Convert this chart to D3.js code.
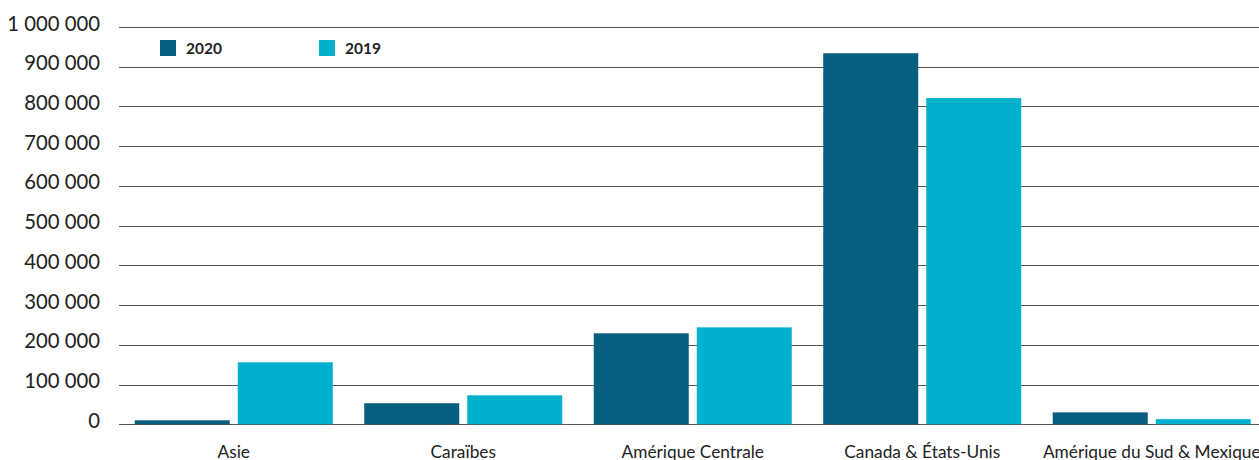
<!DOCTYPE html>
<html><head><meta charset="utf-8">
<script src="https://cdn.jsdelivr.net/npm/d3@7"></script>
<style>body{margin:0;background:#fff}svg{display:block}</style>
</head><body>
<script>
const categories = ["Asie","Caraïbes","Amérique Centrale","Canada & États-Unis","Amérique du Sud & Mexique"];
const seriesNames = ["2020","2019"];
const values2020 = [10000, 53000, 229000, 934000, 30000];
const values2019 = [156000, 73000, 244000, 821000, 13000];
const yTicks = [0,100000,200000,300000,400000,500000,600000,700000,800000,900000,1000000];
const colors = ["#075e7e","#00b1cd"];

const W=1259,H=460;
const FONT="Lato, 'Open Sans', sans-serif";
const svg=d3.select("body").append("svg").attr("width",W).attr("height",H);
const x0=d3.scaleBand().domain(categories).range([119,1266.5]).paddingInner(0).paddingOuter(0);
const x1=d3.scaleBand().domain(seriesNames).range([15.75, x0.bandwidth()-15.75]).paddingInner(0.078);
const y=d3.scaleLinear().domain([0,1000000]).range([424.3,27]);
const fmt=d=>d3.format(",")(d).replace(/,/g," ");

// gridlines
svg.append("g").selectAll("line").data(yTicks).join("line")
  .attr("x1",119).attr("x2",W).attr("y1",d=>Math.round(y(d))+0.5).attr("y2",d=>Math.round(y(d))+0.5)
  .attr("stroke","#555").attr("stroke-width",1.2);

// y axis labels
const yAxis=d3.axisLeft(y).tickValues(yTicks).tickFormat(fmt).tickSize(0).tickPadding(0);
const ga=svg.append("g").attr("transform","translate(100,0)").call(yAxis);
ga.select(".domain").remove();
ga.selectAll("text").attr("font-family",FONT).attr("font-size",20.3).attr("fill","#222").attr("dy","0.15em");

// bars
const data=categories.map((c,i)=>({c,vals:[{k:"2020",v:values2020[i]},{k:"2019",v:values2019[i]}]}));
const g=svg.append("g").selectAll("g").data(data).join("g").attr("transform",d=>`translate(${x0(d.c)},0)`);
g.selectAll("rect").data(d=>d.vals).join("rect")
  .attr("x",d=>x1(d.k)).attr("width",x1.bandwidth())
  .attr("y",d=>y(d.v)).attr("height",d=>y(0)-y(d.v))
  .attr("fill",(d,i)=>colors[i]);

// x labels
const xAxis=d3.axisBottom(x0).tickSize(0).tickPadding(0);
const gx=svg.append("g").attr("transform","translate(0,446)").call(xAxis);
gx.select(".domain").remove();
gx.selectAll("text").attr("font-family",FONT).attr("font-size",17.3).attr("fill","#222").attr("dy","0.71em");

// legend
const leg=svg.append("g");
const lx=[160,319];
seriesNames.forEach((s,i)=>{
  leg.append("rect").attr("x",lx[i]).attr("y",40).attr("width",16).attr("height",16).attr("fill",colors[i]);
  leg.append("text").attr("x",lx[i]+26).attr("y",54).text(s)
    .attr("font-family",FONT).attr("font-weight","bold").attr("font-size",15.5).attr("fill","#222");
});
</script>
</body></html>
